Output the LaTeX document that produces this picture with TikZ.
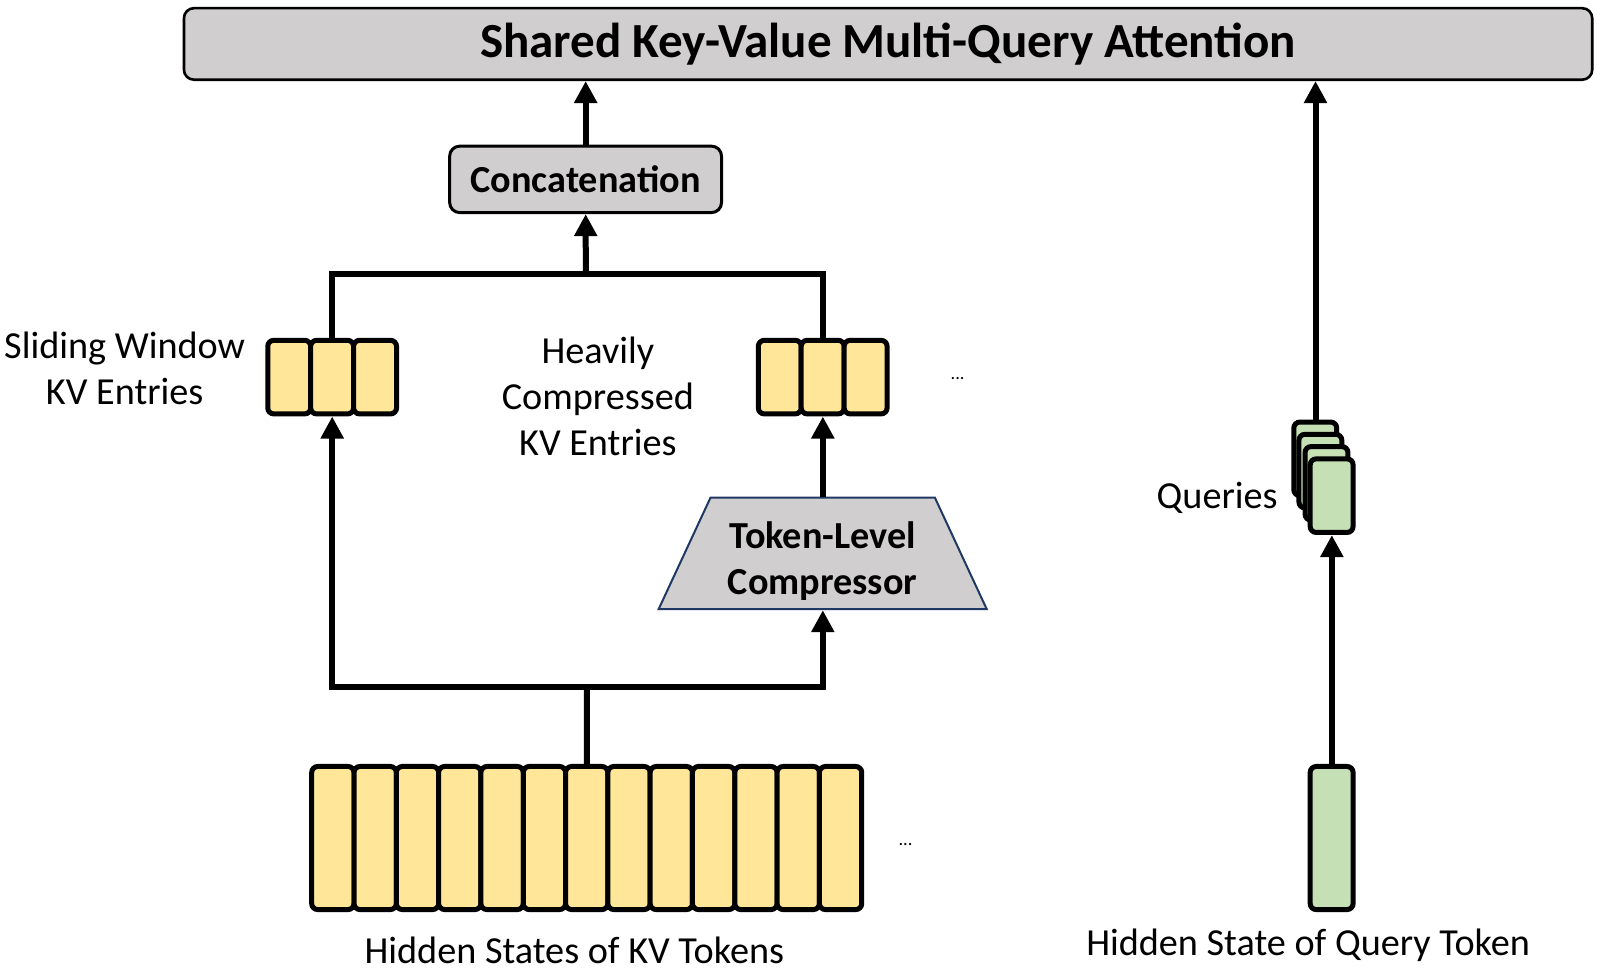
\documentclass[tikz,border=0pt]{standalone}
\usepackage{fontspec}
\setmainfont{Carlito}
\usetikzlibrary{arrows.meta,shapes.geometric}
\definecolor{kvy}{RGB}{255,230,153}
\definecolor{qgr}{RGB}{197,224,180}
\definecolor{boxg}{RGB}{208,206,206}
\definecolor{navy}{RGB}{32,56,100}
\begin{document}
\begin{tikzpicture}[x=0.5pt,y=-0.5pt,scale=1.022,every node/.append style={transform shape},
  lbl/.style={font=\fontsize{18.7}{22.5}\selectfont, align=center, inner sep=0},
  kv/.style={draw=black, line width=2.5pt, fill=kvy, rounded corners=3pt, minimum width=21pt, minimum height=36pt, inner sep=0},
  hs/.style={kv, minimum width=20.7pt, minimum height=70pt},
  qc/.style={kv, fill=qgr},
  graybox/.style={draw=black, fill=boxg, rounded corners=5pt, inner sep=0},
  conn/.style={line width=3pt, line join=miter},
  arr/.style={conn, -{Triangle[length=11pt,width=11pt]}},
  dots/.style={font=\fontsize{9}{10}\selectfont, inner sep=0}]
\useasboundingbox (0,0) rectangle (1565.6,950.1);

% top bar
\node[graybox, line width=1.3pt, minimum width=689pt, minimum height=35pt,
      font=\bfseries\fontsize{24}{28}\selectfont] (top) at (869,43) {Shared Key-Value Multi-Query Attention};

% concatenation
\node[graybox, line width=1.5pt, minimum width=133pt, minimum height=32.5pt,
      font=\bfseries\fontsize{18.7}{22}\selectfont] (concat) at (573,175.5) {Concatenation};

% sliding window KV entries
\node[kv] (sw1) at (283,369) {};
\node[kv] (sw2) at (325,369) {};
\node[kv] (sw3) at (367,369) {};
% compressed KV entries
\node[kv] (ck1) at (763,369) {};
\node[kv] (ck2) at (805,369) {};
\node[kv] (ck3) at (847,369) {};
\node[dots] (d1) at (937,370) {...};

\node[lbl] (swl) at (122,360) {Sliding Window\\KV Entries};
\node[lbl] (hcl) at (585,388) {Heavily\\Compressed\\KV Entries};

% compressor
\node[trapezium, trapezium stretches=true, trapezium left angle=77, trapezium right angle=77,
      draw=navy, line width=1pt, fill=boxg, minimum width=160.5pt, minimum height=54.5pt, inner sep=2pt] (comp) at (805,541.5) {};
\node[lbl, font=\bfseries\fontsize{18.7}{22.5}\selectfont] (compt) at (805,549) {Token-Level\\Compressor};

% hidden states of KV tokens
\foreach \i in {0,...,12}{
  \node[hs] (h\i) at ({325.7+41.4*\i},820) {};
}
\node[dots] (d2) at (886,826) {...};
\node[lbl] (hsl) at (562,930) {Hidden States of KV Tokens};

% query side
\node[qc, minimum height=70pt] (hq) at (1303,820) {};
\node[qc] (q1) at (1287,449) {};
\node[qc] (q2) at (1292,461) {};
\node[qc] (q3) at (1298,473) {};
\node[qc] (q4) at (1303,485) {};
\node[lbl] (ql) at (1191,487) {Queries};
\node[lbl] (hql) at (1280,925) {Hidden State of Query Token};

% connectors
\coordinate (jb) at (h6.north |- 0,672);
\coordinate (jt) at (concat.south |- 0,268);
\draw[conn] (h6.north) -- (jb);
\draw[arr] (jb) -| (sw2.south);
\draw[arr] (jb) -| (comp.south);
\draw[arr] (comp.north) -- (ck2.south);
\draw[conn] (sw2.north) -- (sw2.north |- jt) -- (ck2.north |- jt) -- (ck2.north);
\draw[arr] (jt) -- (concat.south);
\draw[arr] (concat.north) -- (concat.north |- top.south);
\draw[arr] (hq.north) -- (q4.south);
\draw[arr] (q1.north) -- (q1.north |- top.south);
\end{tikzpicture}
\end{document}
